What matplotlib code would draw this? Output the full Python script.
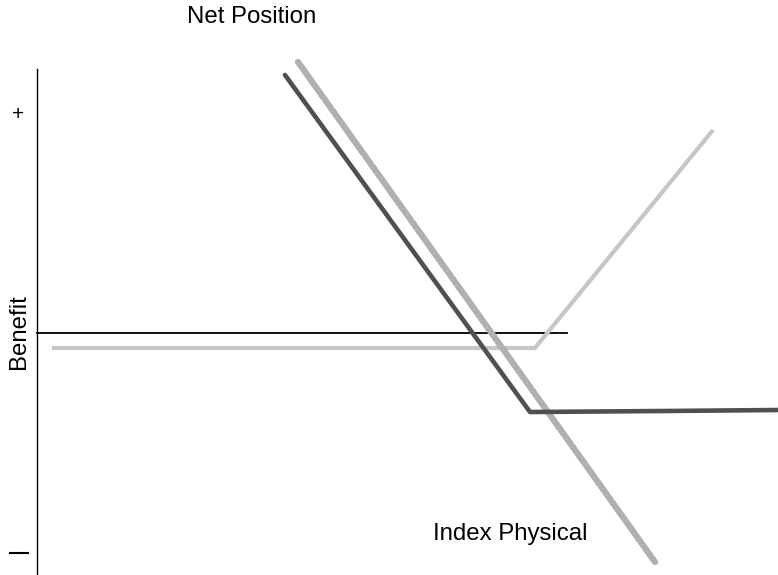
import numpy as np
import matplotlib.pyplot as plt

# payoff lines (x = index level, y = benefit, screen-like units)
physical_x = [298, 655]
physical_y = [62, 562]

index_x = [52, 535, 713]
index_y = [348, 348, 130]

net_x = [285, 530, 665, 778]
net_y = [75, 412, 411, 410]

zero_x = [37, 567]
zero_y = [333, 333]

fig = plt.figure(figsize=(7.78, 5.75), dpi=100)
ax = fig.add_axes([0, 0, 1, 1])
ax.set_xlim(0, 778)
ax.set_ylim(575, 0)
ax.axis('off')

# benefit axis
ax.plot([37, 37], [69, 575], color='black', lw=1)
ax.plot(zero_x, zero_y, color='black', lw=1.3)

ax.plot(index_x, index_y, color='#c6c6c6', lw=3, solid_capstyle='butt')
ax.plot(physical_x, physical_y, color='#b0b0b0', lw=4.5, solid_capstyle='round')
ax.plot(net_x, net_y, color='#505050', lw=3.3, solid_capstyle='round')

fs = 17.3
ax.text(252, 17, 'Net Position', ha='center', va='center', fontsize=fs,
        family='Liberation Sans')
ax.text(18, 115, '+', ha='center', va='center', fontsize=15, family='Liberation Sans')
ax.text(19, 332, 'Benefit', ha='center', va='center', rotation=90, fontsize=fs,
        family='Liberation Sans')
ax.plot([10, 28], [553, 553], color='black', lw=1.5)
ax.text(510, 534, 'Index Physical', ha='center', va='center', fontsize=fs,
        family='Liberation Sans')

plt.savefig('out.png', dpi=100)
